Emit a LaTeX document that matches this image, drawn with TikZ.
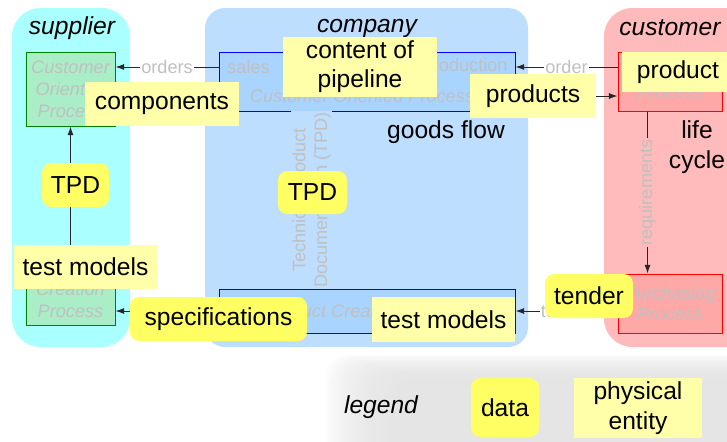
\documentclass[tikz,border=0pt]{standalone}
\usepackage{fontspec}
\setmainfont{Liberation Sans}
\usepackage{xcolor}
\usepackage{tikz}
\usetikzlibrary{arrows.meta,positioning,calc}
\definecolor{suplane}{RGB}{170,255,255}
\definecolor{comlane}{RGB}{190,222,255}
\definecolor{cuslane}{RGB}{255,187,187}
\definecolor{supbox}{RGB}{170,238,200}
\definecolor{combox}{RGB}{168,212,255}
\definecolor{cusbox}{RGB}{255,168,168}
\definecolor{datayellow}{RGB}{255,255,100}
\definecolor{physyellow}{RGB}{255,255,170}
\definecolor{hintgray}{RGB}{192,192,192}
\definecolor{legendgray}{RGB}{226,226,226}
\tikzset{
  % default text for all nodes
  every node/.append style={font=\fontsize{21}{25}\selectfont},
  % swim lanes
  lane/.style={rounded corners=0.85cm},
  lanetitle/.style={font=\fontsize{21}{25}\selectfont\itshape},
  % process boxes
  procbox/.style={
    draw,
    line width=0.8pt,
    inner sep=0pt,
    align=center,
    text=hintgray,
    font=\fontsize{15.5}{18.7}\selectfont\itshape
  },
  % faint labels
  hint/.style={font=\fontsize{15.5}{18.7}\selectfont, text=hintgray, inner sep=1pt},
  hintit/.style={hint, font=\fontsize{15.5}{18.7}\selectfont\itshape},
  % data and physical entities
  datanode/.style={fill=datayellow, rounded corners=8pt, inner sep=0pt, align=center},
  physnode/.style={fill=physyellow, inner sep=0pt, align=center},
  % arrows
  arr/.style={-{Latex[length=2.6mm,width=1.8mm]}, line width=0.8pt, black!85},
}

\begin{document}
\begin{tikzpicture}[x=0.03cm, y=-0.03cm]
    \useasboundingbox (0,0) rectangle (727,441);
    \clip (0,0) rectangle (727,441);

    % legend band with soft edge
    \foreach \i in {0,...,19}
        \fill[legendgray, opacity=0.1, rounded corners=20pt] (325+\i*3.5, 355+\i*1.2) rectangle (770,470);

    % lanes
    \fill[suplane, lane] (12,8) rectangle (130,347);
    \fill[comlane, lane, rounded corners=0.6cm] (205,8) rectangle (528,347);
    \fill[cuslane, lane] (604,8) rectangle (760,347);

    \node[lanetitle] (supT) at (72,28) {supplier};
    \node[lanetitle] (comT) at (367,28) {company};
    \node[lanetitle] (cusT) at (670,28) {customer};

    % processes
    \node[procbox, draw=green!50!black, fill=supbox, minimum width=2.67cm, minimum height=2.22cm] (supCOP) at (70.5,89) {Customer\\Oriented\\Process};
    \node[procbox, draw=green!50!black, fill=supbox, minimum width=2.67cm, minimum height=2.16cm] (supPCP) at (70.5,289) {Product\\Creation\\Process};
    \node[procbox, draw=blue, fill=combox, minimum width=8.88cm, minimum height=1.77cm] (comCOP) at (367,81.5) {};
    \node[procbox, draw=blue, fill=combox, minimum width=8.88cm, minimum height=1.32cm] (comPCP) at (367,311) {Product Creation Process};
    \node[procbox, draw=red, fill=cusbox, minimum width=3.12cm, minimum height=1.77cm] (cusUP) at (670,81.5) {Usage\\Process};
    \node[procbox, draw=red, fill=cusbox, minimum width=3.12cm, minimum height=1.77cm] (cusPP) at (670,303.5) {Purchasing\\Process};

    \node[hint, anchor=west] (sales) at (226,67) {sales};
    \node[hint, anchor=east] (prod) at (509,67) {production};
    \node[hintit] (comCOPtxt) at (362,96) {Customer Oriented Process};

    % flows
    \draw[arr] (comCOP.west |- sales) -- node[hint, fill=white] (ordersLbl) {orders} (supCOP.east |- sales);
    \draw[arr] (cusUP.west |- prod) -- node[hint, fill=white] (orderLbl) {order} (comCOP.east |- prod);
    \draw[arr] (supPCP.north) -- (supCOP.south);
    \draw[arr] ($(comPCP.north west)+(93,0)$) -- node[hint, rotate=90, fill=comlane, align=center] (tpdLbl) {Technical Product\\Documentation (TPD)} ($(comCOP.south west)+(93,0)$);
    \draw[arr] ($(cusUP.south west)+(30,0)$) -- node[hint, rotate=90, fill=cuslane] (reqLbl) {requirements} ($(cusPP.north west)+(30,0)$);
    \draw[arr] (comPCP.west) -- (supPCP.east |- comPCP.west);
    \draw[arr] (cusPP.west |- comPCP.east) -- node[hint, fill=white] (tenderLbl) {tender} (comPCP.east);

    % physical entities
    \node[physnode, minimum width=4.62cm, minimum height=1.32cm] (components) at (162,104) {components};
    \node[physnode, minimum width=4.62cm, minimum height=1.8cm] (pipeline) at (360,67) {content of\\pipeline};
    \node[physnode, minimum width=3.78cm, minimum height=1.32cm] (products) at (533,96) {products};
    \node[physnode, minimum width=3.36cm, minimum height=1.2cm] (product) at (678,72) {product};
    \node[physnode, minimum width=4.29cm, minimum height=1.32cm] (supTest) at (85.5,267) {test models};
    \node[physnode, minimum width=4.29cm, minimum height=1.35cm] (comTest) at (443.5,319.5) {test models};

    % data
    \node[datanode, minimum width=2.01cm, minimum height=1.32cm] (supTPD) at (75.5,185) {TPD};
    \node[datanode, minimum width=2.07cm, minimum height=1.29cm] (comTPD) at (312.5,192.5) {TPD};
    \node[datanode, minimum width=5.31cm, minimum height=1.32cm] (specs) at (218.5,319) {specifications};
    \node[datanode, minimum width=2.64cm, minimum height=1.32cm] (tender) at (589,296) {tender};

    \draw[arr] (products.east) -- (cusUP.west |- products.east);

    \node (goods) at (446,132) {goods flow};
    \node[align=center] (life) at (697,147) {life\\cycle};

    % legend
    \node[lanetitle] (legend) at (381,407) {legend};
    \node[datanode, minimum width=2.04cm, minimum height=1.77cm] (legData) at (505,407.5) {data};
    \node[physnode, minimum width=3.84cm, minimum height=1.8cm] (legPhys) at (638,408) {physical\\entity};
\end{tikzpicture}
\end{document}
